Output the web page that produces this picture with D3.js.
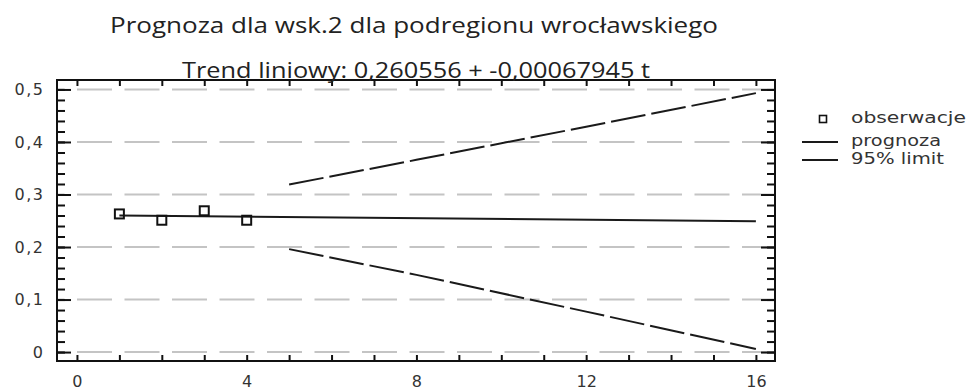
<!DOCTYPE html>
<html>
<head>
<meta charset="utf-8">
<script src="https://cdn.jsdelivr.net/npm/d3@7"></script>
<style>
  body { margin: 0; background: #fff; overflow: hidden; }
  text { font-family: "DejaVu Sans", sans-serif; fill: #333; }
  .title { font-family: "Open Sans", sans-serif; fill: #222; }
  .axis path { display: none; }
  .axis line { stroke: #111; stroke-width: 2; }
  .axis text { font-size: 16px; fill: #333; }
  .yLab text { letter-spacing: 1.5px; }
</style>
</head>
<body>
<div id="chart"></div>
<script>
// Datos
const obsT = [1, 2, 3, 4]
const obsV = [0.263, 0.251, 0.269, 0.251]

const prognozaT = [1, 16]
const prognozaV = [0.260, 0.249]

const limitT = [5, 8, 12, 16]
const upperV = [0.319, 0.366, 0.429, 0.493]
const lowerV = [0.196, 0.147, 0.077, 0.006]

const yMajor = [0, 0.1, 0.2, 0.3, 0.4, 0.5]
const yLabels = ["0", "0,1", "0,2", "0,3", "0,4", "0,5"]
const xTicks = d3.range(0, 17)
const xLabeled = [0, 4, 8, 12, 16]
const yMinor = d3.range(0, 26).map(i => i * 0.02)

const legendItems = ["obserwacje", "prognoza", "95% limit"]

// ----------------------------------------------------------

const width = 968
const height = 390
const frame = { left: 57, right: 775, top: 80, bottom: 361 }

const svg = d3.select("div#chart").append("svg")
    .attr("width", width)
    .attr("height", height)
    .style("display", "block")

const scaleX = d3.scaleLinear().domain([-0.47, 16.45]).range([frame.left, frame.right])
const scaleY = d3.scaleLinear().domain([-0.017, 0.518]).range([frame.bottom, frame.top])

// Rejilla horizontal discontinua
svg.append("g").attr("id", "grid")
    .selectAll("line").data(yMajor).enter().append("line")
    .attr("x1", frame.left).attr("x2", frame.right)
    .attr("y1", d => scaleY(d)).attr("y2", d => scaleY(d))
    .attr("stroke", "#c4c4c4")
    .attr("stroke-width", 2)
    .attr("stroke-dasharray", "35,12.5")
    .attr("stroke-dashoffset", 27.5)

// Ejes con marcas hacia dentro
const axisGroup = svg.append("g").attr("id", "axisGroup")

axisGroup.append("g").attr("class", "axis")
    .attr("transform", `translate(${frame.left},0)`)
    .call(d3.axisLeft(scaleY).tickValues(yMinor).tickSize(-8).tickFormat(""))
axisGroup.append("g").attr("class", "axis yLab")
    .attr("transform", `translate(${frame.left},0)`)
    .call(d3.axisLeft(scaleY).tickValues(yMajor).tickSize(-14).tickPadding(12.5)
        .tickFormat((d, i) => yLabels[i]))

axisGroup.append("g").attr("class", "axis")
    .attr("transform", `translate(${frame.right},0)`)
    .call(d3.axisRight(scaleY).tickValues(yMinor).tickSize(-8).tickFormat(""))
axisGroup.append("g").attr("class", "axis")
    .attr("transform", `translate(${frame.right},0)`)
    .call(d3.axisRight(scaleY).tickValues(yMajor).tickSize(-14).tickFormat(""))

axisGroup.append("g").attr("class", "axis")
    .attr("transform", `translate(0,${frame.bottom})`)
    .call(d3.axisBottom(scaleX).tickValues(xTicks).tickSize(-6).tickPadding(15)
        .tickFormat(d => xLabeled.includes(d) ? d : ""))
axisGroup.append("g").attr("class", "axis")
    .attr("transform", `translate(0,${frame.top})`)
    .call(d3.axisTop(scaleX).tickValues(xTicks).tickSize(-6).tickFormat(""))

// Marco
svg.append("rect")
    .attr("x", frame.left).attr("y", frame.top)
    .attr("width", frame.right - frame.left).attr("height", frame.bottom - frame.top)
    .attr("fill", "none").attr("stroke", "#111").attr("stroke-width", 2)

const elementGroup = svg.append("g").attr("id", "elementGroup")

// Línea de prognoza
const line = d3.line().x(d => scaleX(d[0])).y(d => scaleY(d[1]))
elementGroup.append("path")
    .datum(prognozaT.map((t, i) => [t, prognozaV[i]]))
    .attr("d", line)
    .attr("fill", "none").attr("stroke", "#1a1a1a").attr("stroke-width", 2)

// Límites 95%
;[upperV, lowerV].forEach(vals => {
    elementGroup.append("path")
        .datum(limitT.map((t, i) => [t, vals[i]]))
        .attr("d", line)
        .attr("fill", "none").attr("stroke", "#1a1a1a").attr("stroke-width", 2)
        .attr("stroke-dasharray", "35,6")
})

// Observaciones
elementGroup.selectAll("rect.obs").data(obsT).enter().append("rect")
    .attr("class", "obs")
    .attr("x", d => scaleX(d) - 4.5)
    .attr("y", (d, i) => scaleY(obsV[i]) - 4.5)
    .attr("width", 9).attr("height", 9)
    .attr("fill", "none").attr("stroke", "#111").attr("stroke-width", 2)

// Títulos
svg.append("text").attr("class", "title")
    .text("Prognoza dla wsk.2 dla podregionu wrocławskiego")
    .attr("x", 110).attr("y", 32.5)
    .attr("font-size", 22)
    .attr("textLength", 608).attr("lengthAdjust", "spacingAndGlyphs")

svg.append("text").attr("class", "title")
    .text("Trend liniowy: 0,260556 + -0,00067945 t")
    .attr("x", 182).attr("y", 78)
    .attr("font-size", 22)
    .attr("textLength", 468).attr("lengthAdjust", "spacingAndGlyphs")

// Leyenda
const legend = svg.append("g").attr("id", "legend")
legend.append("rect")
    .attr("x", 819.5).attr("y", 115.5).attr("width", 7).attr("height", 7)
    .attr("fill", "none").attr("stroke", "#111").attr("stroke-width", 1.6)
legend.append("line")
    .attr("x1", 802).attr("x2", 838).attr("y1", 142).attr("y2", 142)
    .attr("stroke", "#1a1a1a").attr("stroke-width", 2)
legend.append("line")
    .attr("x1", 802).attr("x2", 838).attr("y1", 160).attr("y2", 160)
    .attr("stroke", "#1a1a1a").attr("stroke-width", 2)

const legendLengths = [115, 90, 93]
const legendY = [122.5, 145.5, 164]
legend.selectAll("text").data(legendItems).enter().append("text")
    .text(d => d)
    .attr("x", 851)
    .attr("y", (d, i) => legendY[i])
    .attr("font-size", 15)
    .attr("textLength", (d, i) => legendLengths[i])
    .attr("lengthAdjust", "spacingAndGlyphs")
</script>
</body>
</html>
